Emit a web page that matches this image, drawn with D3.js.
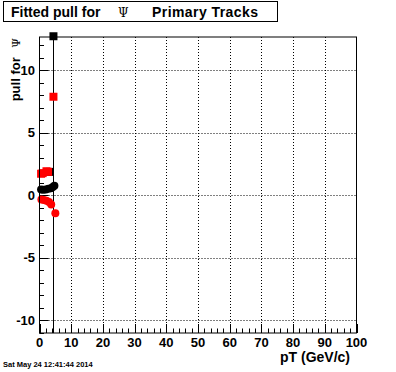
<!DOCTYPE html>
<html>
<head>
<meta charset="utf-8">
<script src="https://cdn.jsdelivr.net/npm/d3@7"></script>
<style>
  body { margin: 0; background: #fff; }
  svg text { font-family: "Liberation Sans", Arial, sans-serif; font-weight: bold; }
</style>
</head>
<body>
<svg id="chart" width="396" height="372"></svg>
<script>
// values
const xTicks = [0, 10, 20, 30, 40, 50, 60, 70, 80, 90, 100];
const yTicks = [-10, -5, 0, 5, 10];

const redSquarePt = [0.5, 1.0, 2.2, 2.7, 4.4];
const redSquareVal = [1.7, 1.75, 1.9, 1.85, 7.86];

const blackSquarePt = [3.3, 4.4];
const blackSquareVal = [1.85, 12.7];
const blackSquareErr = [0.1, 26];

const blackCirclePt = [0.5, 1.2, 2.0, 2.8, 3.6, 4.2, 4.7];
const blackCircleVal = [0.45, 0.42, 0.45, 0.5, 0.55, 0.65, 0.75];

const redCirclePt = [0.6, 1.4, 2.2, 3.0, 3.7, 5.0];
const redCircleVal = [-0.35, -0.4, -0.45, -0.55, -0.75, -1.45];

const svg = d3.select('#chart');

const x = d3.scaleLinear().domain([0, 100]).range([39.5, 356.5]);
const y = d3.scaleLinear().domain([-11.04, 12.64]).range([333, 37]);

const [x0, x1] = x.range();
const [y0, y1] = y.range();

// grid
svg.append('g')
    .selectAll('line.gx')
    .data(xTicks.slice(1, -1))
    .join('line')
        .attr('x1', d => Math.round(x(d)) + 0.5)
        .attr('x2', d => Math.round(x(d)) + 0.5)
        .attr('y1', y1)
        .attr('y2', y0)
        .attr('stroke', '#000')
        .attr('stroke-dasharray', '1,2');

svg.append('g')
    .selectAll('line.gy')
    .data(yTicks)
    .join('line')
        .attr('x1', x0)
        .attr('x2', x1)
        .attr('y1', d => Math.round(y(d)) + 0.5)
        .attr('y2', d => Math.round(y(d)) + 0.5)
        .attr('stroke', '#000')
        .attr('stroke-dasharray', '1,2');

// ticks inside the frame
const xMinor = d3.range(0, 101, 2);
svg.append('g')
    .selectAll('line')
    .data(xMinor)
    .join('line')
        .attr('x1', d => Math.round(x(d)) + 0.5)
        .attr('x2', d => Math.round(x(d)) + 0.5)
        .attr('y1', y0)
        .attr('y2', d => y0 - (d % 10 === 0 ? 9 : 4.5))
        .attr('stroke', '#000');

const yMinor = d3.range(-11, 13, 1);
svg.append('g')
    .selectAll('line')
    .data(yMinor)
    .join('line')
        .attr('x1', x0)
        .attr('x2', d => x0 + (d % 5 === 0 ? 9 : 4.5))
        .attr('y1', d => Math.round(y(d)) + 0.5)
        .attr('y2', d => Math.round(y(d)) + 0.5)
        .attr('stroke', '#000');

// tick labels
svg.append('g')
    .selectAll('text')
    .data(xTicks)
    .join('text')
        .attr('x', d => x(d))
        .attr('y', 347)
        .attr('text-anchor', 'middle')
        .style('font-size', '13px')
        .text(d => d);

svg.append('g')
    .selectAll('text')
    .data(yTicks)
    .join('text')
        .attr('x', 35)
        .attr('y', d => y(d) + 4.5)
        .attr('text-anchor', 'end')
        .style('font-size', '13px')
        .text(d => d);

// clip for error bars
svg.append('clipPath').attr('id', 'frameClip')
    .append('rect')
        .attr('x', x0).attr('y', y1)
        .attr('width', x1 - x0).attr('height', y0 - y1);

const errG = svg.append('g').attr('clip-path', 'url(#frameClip)');
errG.selectAll('line')
    .data(d3.zip(blackSquarePt, blackSquareVal, blackSquareErr))
    .join('line')
        .attr('x1', d => Math.round(x(d[0])) + 0.5)
        .attr('x2', d => Math.round(x(d[0])) + 0.5)
        .attr('y1', d => y(d[1] - d[2]))
        .attr('y2', d => y(d[1] + d[2]))
        .attr('stroke', '#000');

// markers
const msize = 8;

svg.append('g')
    .selectAll('rect')
    .data(d3.zip(blackSquarePt, blackSquareVal))
    .join('rect')
        .attr('x', d => x(d[0]) - msize / 2)
        .attr('y', d => y(d[1]) - msize / 2)
        .attr('width', msize)
        .attr('height', msize)
        .attr('fill', '#000');

svg.append('g')
    .selectAll('rect')
    .data(d3.zip(redSquarePt, redSquareVal))
    .join('rect')
        .attr('x', d => x(d[0]) - msize / 2)
        .attr('y', d => y(d[1]) - msize / 2)
        .attr('width', msize)
        .attr('height', msize)
        .attr('fill', '#ff0000');

svg.append('g')
    .selectAll('circle')
    .data(d3.zip(blackCirclePt, blackCircleVal))
    .join('circle')
        .attr('cx', d => x(d[0]))
        .attr('cy', d => y(d[1]))
        .attr('r', 4)
        .attr('fill', '#000');

svg.append('g')
    .selectAll('circle')
    .data(d3.zip(redCirclePt, redCircleVal))
    .join('circle')
        .attr('cx', d => x(d[0]))
        .attr('cy', d => y(d[1]))
        .attr('r', 4)
        .attr('fill', '#ff0000');

// frame
svg.append('rect')
    .attr('x', x0).attr('y', y1)
    .attr('width', x1 - x0).attr('height', y0 - y1)
    .attr('fill', 'none')
    .attr('stroke', '#000');

// axis titles
svg.append('text')
    .attr('x', 350)
    .attr('y', 362)
    .attr('text-anchor', 'end')
    .style('font-size', '14px')
    .text('pT (GeV/c)');

const yTitle = svg.append('text')
    .attr('transform', 'translate(20,38) rotate(-90)')
    .attr('text-anchor', 'end')
    .style('font-size', '13px');
yTitle.append('tspan').text('pull for ');
yTitle.append('tspan')
    .attr('dx', 6)
    .style('font-family', '"DejaVu Serif", "Liberation Serif", serif')
    .style('font-weight', 'normal')
    .style('font-size', '11px')
    .text('Ψ');

// title box
svg.append('rect')
    .attr('x', 3.5).attr('y', 1.5)
    .attr('width', 274).attr('height', 20)
    .attr('fill', '#fff')
    .attr('stroke', '#000');

const title = svg.append('text')
    .attr('x', 11)
    .attr('y', 17)
    .style('font-size', '14px');
title.append('tspan').text('Fitted pull for');
title.append('tspan')
    .attr('x', 118)
    .style('font-family', '"DejaVu Serif", "Liberation Serif", serif')
    .style('font-weight', 'normal')
    .style('font-size', '12px')
    .text('Ψ');
title.append('tspan')
    .attr('x', 152)
    .attr('textLength', 106)
    .text('Primary Tracks');

// date stamp
svg.append('text')
    .attr('x', 3)
    .attr('y', 367)
    .style('font-size', '7.5px')
    .text('Sat May 24 12:41:44 2014');
</script>
</body>
</html>
